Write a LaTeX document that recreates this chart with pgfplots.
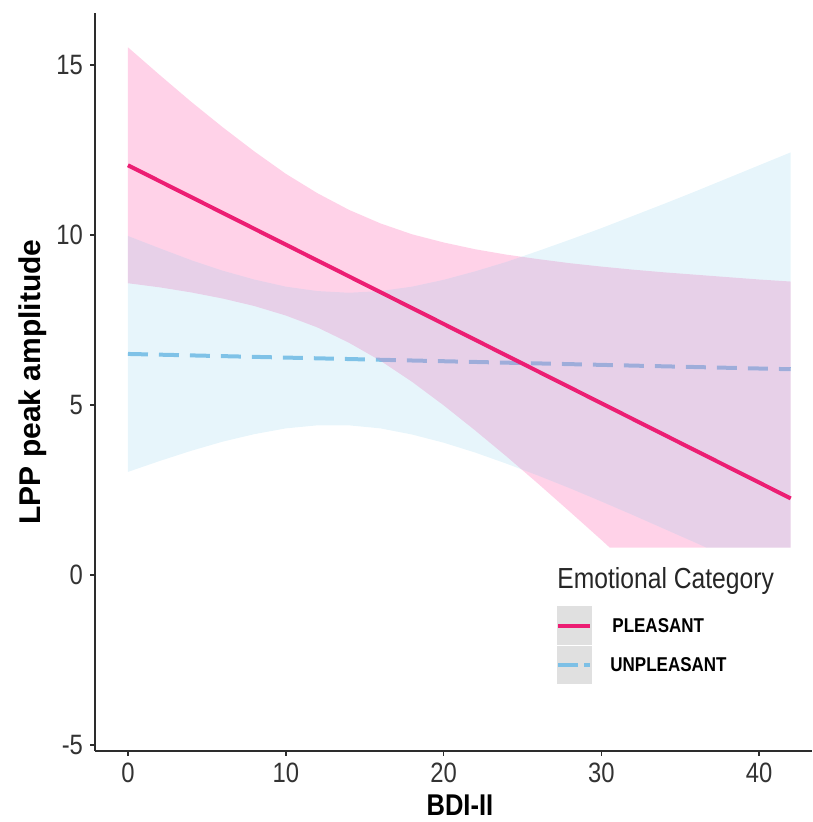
\documentclass[border=0pt]{standalone}
\usepackage{fontspec}
\setmainfont{Liberation Sans}
\newfontfamily\condfont{Liberation Sans}[FakeStretch=0.85]
\usepackage{pgfplots}
\pgfplotsset{compat=1.18}
\definecolor{pinkline}{RGB}{236,30,115}
\definecolor{pinkfill}{RGB}{255,105,180}
\definecolor{bluefill}{RGB}{135,206,235}
\definecolor{blueline}{RGB}{125,192,230}
\definecolor{axisgray}{RGB}{45,45,45}
\begin{document}
\begin{tikzpicture}
\useasboundingbox (-47.5pt,-35.5pt) rectangle (358.5pt,375.5pt);
\begin{axis}[
  at={(0pt,0pt)}, anchor=south west,
  scale only axis, width=358.5pt, height=369pt,
  xmin=-2.09, xmax=43.35, ymin=-5.18, ymax=16.53,
  axis lines=left,
  axis line style={-, draw=axisgray, line width=1.4pt},
  xtick={0,10,20,30,40}, ytick={-5,0,5,10,15},
  tick align=outside, major tick length=2.5pt,
  tick style={draw=axisgray, line width=0.8pt},
  /pgf/number format/assume math mode=true,
  ticklabel style={font=\condfont\fontsize{14pt}{16pt}\selectfont, text=black!80},
  xlabel={BDI-II}, ylabel={LPP peak amplitude},
  xlabel style={font=\condfont\bfseries\fontsize{15pt}{17pt}\selectfont, at={(axis description cs:0.509,-0.073)}, anchor=center},
  ylabel style={font=\bfseries\fontsize{15pt}{18pt}\selectfont, at={(axis description cs:-0.0865,0.5)}, anchor=center},
]
\addplot[blueline, line width=2pt, dash pattern=on 10pt off 5.5pt] coordinates {(0,6.5) (42,6.05)};
\addplot[draw=none, fill=pinkfill, fill opacity=0.3] coordinates {
(0,15.52) (2,14.71) (4,13.92) (6,13.17) (8,12.46) (10,11.80) (12,11.23) (14,10.74) (16,10.34) (18,10.02) (20,9.78) (22,9.58) (24,9.42) (26,9.29) (28,9.17) (30,9.07) (32,8.98) (34,8.90) (36,8.83) (38,8.76) (40,8.69) (42,8.63)
(42,0.8) (40,0.8) (38,0.8) (36,0.8) (34,0.8) (32,0.8) (30.54,0.8) (30,1.03) (28,1.86) (26,2.68) (24,3.48) (22,4.25) (20,4.99) (18,5.68) (16,6.30) (14,6.83) (12,7.28) (10,7.63) (8,7.91) (6,8.13) (4,8.31) (2,8.46) (0,8.58)
} -- cycle;
\addplot[draw=none, fill=bluefill, fill opacity=0.2] coordinates {
(0,9.97) (2,9.61) (4,9.26) (6,8.95) (8,8.69) (10,8.48) (12,8.35) (14,8.30) (16,8.35) (18,8.48) (20,8.68) (22,8.93) (24,9.21) (26,9.53) (28,9.86) (30,10.20) (32,10.56) (34,10.92) (36,11.29) (38,11.67) (40,12.05) (42,12.43)
(42,0.8) (40,0.8) (38,0.8) (36.67,0.8) (36,0.94) (34,1.35) (32,1.76) (30,2.16) (28,2.55) (26,2.92) (24,3.27) (22,3.60) (20,3.89) (18,4.13) (16,4.31) (14,4.40) (12,4.40) (10,4.31) (8,4.14) (6,3.92) (4,3.65) (2,3.35) (0,3.03)
} -- cycle;
\addplot[pinkline, line width=2pt] coordinates {(0,12.05) (42,2.25)};
\end{axis}
\node[anchor=west, font=\condfont\fontsize{14.5pt}{17pt}\selectfont, text=black!85, inner sep=0pt] at (231pt,85pt) {Emotional Category};
\fill[black!12] (231pt,53pt) rectangle (248.5pt,72.5pt);
\fill[black!12] (231pt,33.5pt) rectangle (248.5pt,52.5pt);
\draw[pinkline, line width=2pt] (231.5pt,62.5pt) -- (247.5pt,62.5pt);
\draw[blueline, line width=2pt, dash pattern=on 10pt off 3pt] (231.5pt,43pt) -- (247.5pt,43pt);
\node[anchor=west, font=\condfont\bfseries\fontsize{10pt}{12pt}\selectfont, inner sep=0pt] at (258.5pt,62.5pt) {PLEASANT};
\node[anchor=west, font=\condfont\bfseries\fontsize{10pt}{12pt}\selectfont, inner sep=0pt] at (257.5pt,43pt) {UNPLEASANT};
\end{tikzpicture}
\end{document}
